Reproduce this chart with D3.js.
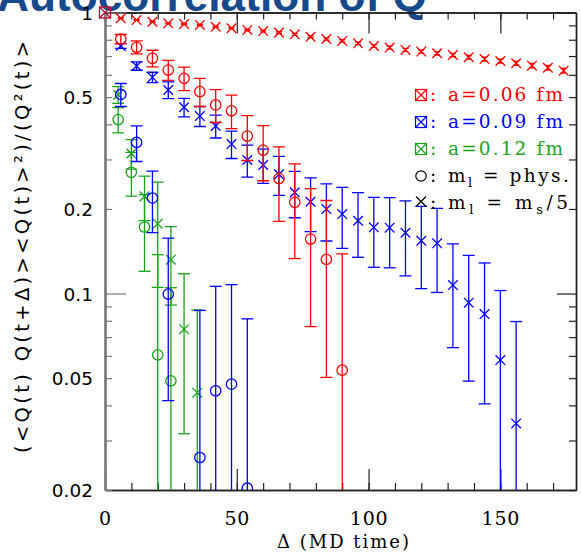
<!DOCTYPE html>
<html><head><meta charset="utf-8">
<script src="https://cdn.jsdelivr.net/npm/d3@7"></script>
<style>body{margin:0;background:#fff}svg{display:block}</style>
</head><body>
<div id="chart"></div>
<script>
// ---------------- data ----------------
const title = "Autocorrelation of Q";
const xTickLabels = [0, 50, 100, 150];
const yTickLabels = [0.02, 0.05, 0.1, 0.2, 0.5, 1];

// a=0.06 fm, m_l = m_s/5 (red crosses)
const redXDelta = [6,12,18,24,30,36,42,48,54,60,66,72,78,84,90,96,102,108,114,120,126,132,138,144,150,156,162,168,174];
const redXVal = [0.954,0.940,0.927,0.915,0.910,0.903,0.890,0.879,0.867,0.859,0.848,0.836,0.820,0.805,0.792,0.777,0.760,0.750,0.736,0.726,0.716,0.706,0.693,0.683,0.672,0.660,0.647,0.636,0.621];
const redXErr = [0.002,0.003,0.003,0.004,0.004,0.005,0.005,0.005,0.006,0.006,0.006,0.007,0.007,0.007,0.008,0.008,0.008,0.009,0.009,0.009,0.010,0.010,0.010,0.011,0.011,0.011,0.012,0.012,0.012];

// a=0.06 fm, m_l = phys (red circles)
const redODelta = [6,12,18,24,30,36,42,48,54,60,66,72,78,84,90];
const redOVal = [0.805,0.752,0.687,0.624,0.583,0.523,0.469,0.447,0.3635,0.324,0.2566,0.2112,0.1563,0.1323,0.0534];
const redOErr = [0.03,0.04,0.047,0.051,0.056,0.06,0.063,0.061,0.066,0.072,0.076,0.078,0.08,0.082,0.085];

// a=0.09 fm, m_l = m_s/5 (blue crosses)
const blueXDelta = [6,12,18,24,30,36,42,48,54,60,66,72,78,84,90,96,102,108,114,120,126,132,138,144,150,156];
const blueXVal = [0.760,0.645,0.588,0.530,0.460,0.428,0.3946,0.3404,0.2986,0.2866,0.2655,0.2291,0.2121,0.1998,0.1918,0.1816,0.1720,0.1715,0.1646,0.1541,0.1509,0.1072,0.0928,0.0845,0.0580,0.0345];
const blueXErr = [0.015,0.022,0.025,0.036,0.035,0.035,0.037,0.038,0.039,0.04,0.042,0.043,0.046,0.046,0.047,0.047,0.048,0.048,0.049,0.05,0.05,0.043,0.044,0.044,0.0445,0.045];

// a=0.09 fm, m_l = phys (blue circles)
const blueODelta = [6,12,18,24,36,42,48,54];
const blueOVal = [0.511,0.345,0.2188,0.0996,0.0261,0.0451,0.0476,0.0203];
const blueOErr = [0.048,0.05,0.054,0.058,0.061,0.061,0.06,0.061];

// a=0.12 fm, m_l = m_s/5 (green crosses)
const greenXDelta = [5,10,15,20,25,30,35];
const greenXVal = [0.51,0.315,0.2217,0.1772,0.132,0.0747,0.0444];
const greenXErr = [0.035,0.038,0.04,0.072,0.041,0.043,0.043];

// a=0.12 fm, m_l = phys (green circles)
const greenODelta = [5,10,15,20,25];
const greenOVal = [0.416,0.270,0.1725,0.0605,0.0489];
const greenOErr = [0.043,0.048,0.0525,0.077,0.056];

const legendLabels = ["a=0.06  fm","a=0.09  fm","a=0.12  fm"];

// ---------------- drawing ----------------
const W = 581, H = 553;
const L = 105, R = 576, T = 12.5, B = 490;
const RED = "#ff0000", BLUE = "#0000ff", GREEN = "#1aa31a";
const SANS = "'DejaVu Sans', Arial, sans-serif";
const SERIF = "'DejaVu Serif', 'Liberation Serif', serif";

const svg = d3.select("#chart").append("svg").attr("width", W).attr("height", H)
  .style("font-family", SANS);
svg.append("rect").attr("width", W).attr("height", H).attr("fill", "#fff");

const x = d3.scaleLinear().domain([0, 178.7]).range([L, R]);
const y = d3.scaleLog().domain([0.02, 1]).range([B, T]);

// title (cut off at the top)
svg.append("text").attr("x", -3).attr("y", 10.5)
  .attr("font-family", "'Liberation Sans', Arial, sans-serif")
  .attr("font-weight", "bold").attr("font-size", 44)
  .attr("fill", "#174a8b")
  .attr("textLength", 430).attr("lengthAdjust", "spacingAndGlyphs")
  .text(title);

// axes
const minorX = d3.range(0, 179, 10);
const majorX = [0, 50, 100, 150];
const minorY = [0.02,0.03,0.04,0.05,0.06,0.07,0.08,0.09,0.2,0.3,0.4,0.5,0.6,0.7,0.8,0.9];
const majorY = [0.1, 1];

function styleAxis(g, color, w) {
  g.select(".domain").attr("stroke", color).attr("stroke-width", w);
  g.selectAll(".tick line").attr("stroke", color).attr("stroke-width", 1.2);
  g.selectAll(".tick text").remove();
}
svg.append("g").attr("transform", `translate(0,${B})`)
  .call(d3.axisBottom(x).tickValues(minorX).tickSizeInner(-7).tickSizeOuter(0))
  .call(g => styleAxis(g, "#222", 1.4));
svg.append("g").attr("transform", `translate(0,${B})`)
  .call(d3.axisBottom(x).tickValues(majorX).tickSizeInner(-21).tickSizeOuter(0))
  .call(g => styleAxis(g, "#222", 1.4));
svg.append("g").attr("transform", `translate(0,${T})`)
  .call(d3.axisTop(x).tickValues(minorX).tickSizeInner(-7).tickSizeOuter(0))
  .call(g => styleAxis(g, "#222", 1.4));
svg.append("g").attr("transform", `translate(0,${T})`)
  .call(d3.axisTop(x).tickValues(majorX).tickSizeInner(-21).tickSizeOuter(0))
  .call(g => styleAxis(g, "#222", 1.4));
svg.append("g").attr("transform", `translate(${L},0)`)
  .call(d3.axisLeft(y).tickValues(minorY).tickSizeInner(-7).tickSizeOuter(0))
  .call(g => styleAxis(g, "#7a7a7a", 2.2));
svg.append("g").attr("transform", `translate(${L},0)`)
  .call(d3.axisLeft(y).tickValues(majorY).tickSizeInner(-21).tickSizeOuter(0))
  .call(g => styleAxis(g, "#7a7a7a", 2.2));
svg.append("g").attr("transform", `translate(${R},0)`)
  .call(d3.axisRight(y).tickValues(minorY).tickSizeInner(-7).tickSizeOuter(0))
  .call(g => styleAxis(g, "#222", 1.4));
svg.append("g").attr("transform", `translate(${R},0)`)
  .call(d3.axisRight(y).tickValues(majorY).tickSizeInner(-19).tickSizeOuter(0))
  .call(g => styleAxis(g, "#222", 1.4));

// tick labels through axes
const yLab = svg.append("g").attr("transform", `translate(${L},0)`)
  .call(d3.axisLeft(y).tickValues(yTickLabels).tickSize(0).tickPadding(12).tickFormat(d => String(d)));
yLab.select(".domain").remove();
yLab.selectAll("text").attr("font-family", SANS)
  .attr("font-size", 18.5).attr("fill", "#000").attr("dy", "0.36em");

const xLab = svg.append("g").attr("transform", `translate(0,${B})`)
  .call(d3.axisBottom(x).tickValues(xTickLabels).tickSize(0).tickPadding(22).tickFormat(d => String(d)));
xLab.select(".domain").remove();
xLab.selectAll("text").attr("font-family", SERIF)
  .attr("font-size", 19).attr("letter-spacing", "0.8px").attr("fill", "#000");

// axis titles
svg.append("text").attr("x", 343).attr("y", 548).attr("text-anchor", "middle")
  .attr("font-family", SERIF).attr("font-size", 18)
  .attr("textLength", 132).attr("lengthAdjust", "spacing")
  .text("Δ (MD time)");
svg.append("text").attr("transform", "translate(29,247) rotate(-90)")
  .attr("text-anchor", "middle")
  .attr("font-family", SANS).attr("font-size", 19.5)
  .attr("textLength", 412).attr("lengthAdjust", "spacing")
  .text("(<Q(t)  Q(t+Δ)><Q(t)>²)/(Q²(t)>");

// data layer
svg.append("clipPath").attr("id", "plotclip").append("rect")
  .attr("x", L).attr("y", T - 8).attr("width", R - L + 8).attr("height", B - T + 8);
const plot = svg.append("g").attr("clip-path", "url(#plotclip)");

function series(deltas, vals, errs, color, shape, capW) {
  const data = deltas.map((d, i) => ({d, v: vals[i], e: errs[i]}));
  const g = plot.append("g").attr("stroke", color).attr("fill", "none").attr("stroke-width", 1.3);
  data.forEach(p => {
    const cx = x(p.d);
    const hiV = p.v + p.e, loV = p.v - p.e;
    const yHi = y(hiV);
    const yLo = loV > 0.02 ? y(loV) : B + 5;
    g.append("line").attr("x1", cx).attr("x2", cx).attr("y1", yHi).attr("y2", yLo);
    g.append("line").attr("x1", cx - capW).attr("x2", cx + capW).attr("y1", yHi).attr("y2", yHi);
    if (loV > 0.02) g.append("line").attr("x1", cx - capW).attr("x2", cx + capW).attr("y1", yLo).attr("y2", yLo);
    const cy = y(p.v);
    if (shape === "o") {
      g.append("circle").attr("cx", cx).attr("cy", cy).attr("r", 5.2);
    } else {
      const s = 4.8;
      g.append("path").attr("d", `M${cx-s},${cy-s}L${cx+s},${cy+s}M${cx-s},${cy+s}L${cx+s},${cy-s}`);
    }
  });
}
series(greenXDelta, greenXVal, greenXErr, GREEN, "x", 6);
series(greenODelta, greenOVal, greenOErr, GREEN, "o", 6);
series(blueODelta, blueOVal, blueOErr, BLUE, "o", 6);
series(blueXDelta, blueXVal, blueXErr, BLUE, "x", 6);
series(redODelta, redOVal, redOErr, RED, "o", 6);
series(redXDelta, redXVal, redXErr, RED, "x", 3);

// normalisation point at Δ=0 (all series coincide)
const c0x = x(0), c0y = y(1), b = 5.5;
svg.append("g").attr("stroke", "#c0123c").attr("fill", "none").attr("stroke-width", 1.4)
  .call(g => {
    g.append("rect").attr("x", c0x - b).attr("y", c0y - b).attr("width", 2*b).attr("height", 2*b);
    g.append("path").attr("d", `M${c0x-b},${c0y-b}L${c0x+b},${c0y+b}M${c0x-b},${c0y+b}L${c0x+b},${c0y-b}`);
  });

// legend
const legColors = [RED, BLUE, GREEN];
const rowsY = [101, 128, 155, 182, 208.5];
const lg = svg.append("g").attr("font-family", SERIF).attr("font-size", 18.5);
legendLabels.forEach((t, i) => {
  const cy = rowsY[i] - 6, cx = 421, s = 5.5;
  const g = lg.append("g").attr("stroke", legColors[i]).attr("fill", "none").attr("stroke-width", 1.2);
  g.append("rect").attr("x", cx - s).attr("y", cy - s).attr("width", 2*s).attr("height", 2*s);
  g.append("path").attr("d", `M${cx-s},${cy-s}L${cx+s},${cy+s}M${cx-s},${cy+s}L${cx+s},${cy-s}`);
  lg.append("text").attr("x", 430).attr("y", rowsY[i]).attr("fill", legColors[i]).text(":");
  lg.append("text").attr("x", 448).attr("y", rowsY[i]).attr("fill", legColors[i])
    .attr("textLength", 115).attr("lengthAdjust", "spacing").text(t);
});
{
  const cy = rowsY[3] - 6;
  lg.append("circle").attr("cx", 421).attr("cy", cy).attr("r", 5.2).attr("fill", "none").attr("stroke", "#000").attr("stroke-width", 1.2);
  lg.append("text").attr("x", 430).attr("y", rowsY[3]).text(":");
  const t = lg.append("text").attr("x", 448).attr("y", rowsY[3]).attr("textLength", 121).attr("lengthAdjust", "spacing");
  t.append("tspan").text("m");
  t.append("tspan").attr("font-size", 13).attr("dy", 5).text("l");
  t.append("tspan").attr("dy", -5).text("  =  phys.");

  const cy2 = rowsY[4] - 7, s = 5;
  lg.append("path").attr("d", `M${421-s},${cy2-s}L${421+s},${cy2+s}M${421-s},${cy2+s}L${421+s},${cy2-s}`)
    .attr("stroke", "#000").attr("stroke-width", 1.2);
  lg.append("text").attr("x", 430).attr("y", rowsY[4]).text(":");
  const t2 = lg.append("text").attr("x", 448).attr("y", rowsY[4]).attr("textLength", 120).attr("lengthAdjust", "spacing");
  t2.append("tspan").text("m");
  t2.append("tspan").attr("font-size", 13).attr("dy", 5).text("l");
  t2.append("tspan").attr("dy", -5).text("  =  m");
  t2.append("tspan").attr("font-size", 13).attr("dy", 5).text("s");
  t2.append("tspan").attr("dy", -5).text("/5");
}
</script>
</body></html>
